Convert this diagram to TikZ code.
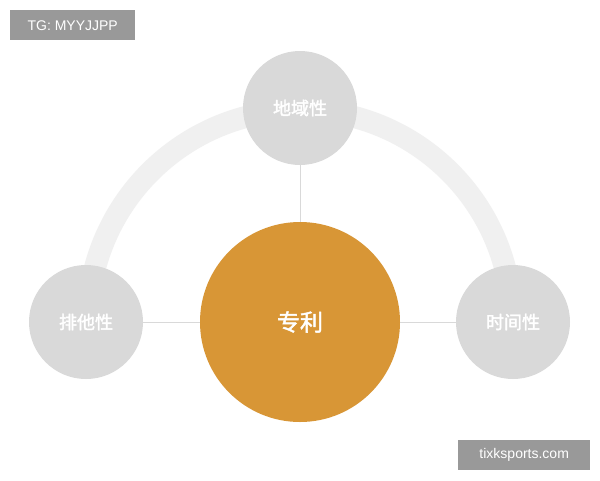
\documentclass[tikz,border=0pt]{standalone}
\usepackage{fontspec}
\setmainfont{Liberation Sans}
\newfontfamily\cjk{Noto Sans CJK SC}[FakeBold=2]
\definecolor{gold}{RGB}{216,150,54}
\begin{document}
\begin{tikzpicture}[x=1pt,y=-1pt,
  small/.style={circle,fill=black!15,minimum size=114pt,inner sep=0pt,text=white,font=\cjk\fontsize{18}{22}\selectfont},
  big/.style={circle,fill=gold,minimum size=200pt,inner sep=0pt,text=white,font=\cjk\fontsize{23}{27}\selectfont},
  tag/.style={fill=black!40,text=white,font=\fontsize{14}{16}\selectfont,inner sep=0pt,anchor=north west},
  link/.style={draw=black!15,line width=1pt}]
\useasboundingbox (0,0) rectangle (600,480);
\fill[white] (0,0) rectangle (600,480);
\draw[black!6,line width=22pt] (88,322) arc[start angle=180,end angle=360,radius=212];
\node[big] (c) at (300,322) {专利};
\node[small] (t) at (300,108) {地域性};
\node[small] (l) at (86,322) {排他性};
\node[small] (r) at (513,322) {时间性};
\draw[link] (t) -- (c);
\draw[link] (l) -- (c);
\draw[link] (r) -- (c);
\node[tag,minimum width=125pt,minimum height=30pt] (tg) at (10,10) {TG: MYYJJPP};
\node[tag,minimum width=132pt,minimum height=30pt] (ws) at (458,440) {tixksports.com};
\end{tikzpicture}
\end{document}
